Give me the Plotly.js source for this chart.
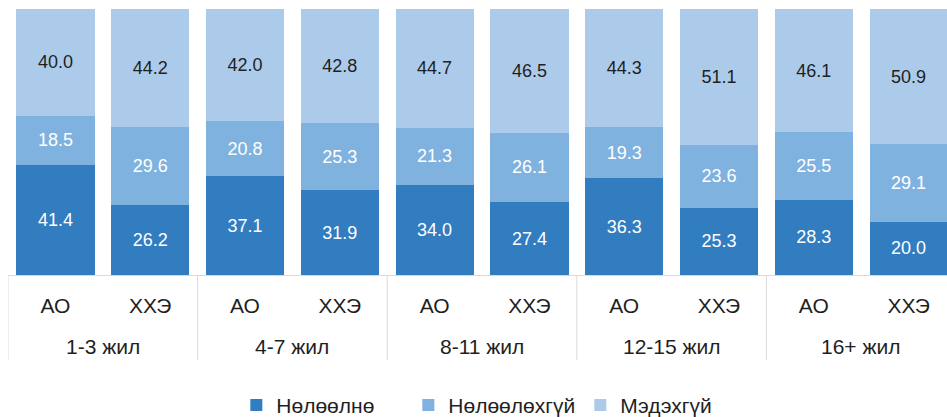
<!DOCTYPE html>
<html>
<head>
<meta charset="utf-8">
<script src="https://cdn.plot.ly/plotly-3.0.1.min.js"></script>
<style>html,body{margin:0;padding:0;background:#fff;}#chart{width:947px;height:417px;}</style>
</head>
<body>
<div id="chart"></div>
<script>
const groups = ['1-3 жил', '4-7 жил', '8-11 жил', '12-15 жил', '16+ жил'];
const subs = ['АО', 'ХХЭ'];
const seriesNames = ['Нөлөөлнө', 'Нөлөөлөхгүй', 'Мэдэхгүй'];
const influences = [41.4, 26.2, 37.1, 31.9, 34.0, 27.4, 36.3, 25.3, 28.3, 20.0];
const noInfluence = [18.5, 29.6, 20.8, 25.3, 21.3, 26.1, 19.3, 23.6, 25.5, 29.1];
const dontKnow = [40.0, 44.2, 42.0, 42.8, 44.7, 46.5, 44.3, 51.1, 46.1, 50.9];

const xSub = [], xIdx = [];
groups.forEach(g => subs.forEach(s => { xIdx.push(xSub.length); xSub.push(s); }));

const colors = ['#327cc0', '#7fb2df', '#accbea'];
const textColors = ['#ffffff', '#ffffff', '#1f1f1f'];
const values = [influences, noInfluence, dontKnow];
const FONT = 'Liberation Sans, Arial, sans-serif';

const traces = values.map((v, i) => ({
  type: 'bar',
  name: seriesNames[i],
  x: xIdx,
  y: v,
  marker: {color: colors[i], line: {width: 0}},
  text: v.map(d => d.toFixed(1)),
  textposition: 'inside',
  insidetextanchor: 'middle',
  textangle: 0,
  textfont: {family: FONT, size: 18, color: textColors[i]},
  hoverinfo: 'skip'
}));

// group labels and dividers placed on the x axis scale
const annotations = groups.map((g, gi) => ({
  xref: 'x', yref: 'paper',
  x: gi * subs.length + (subs.length - 1) / 2,
  y: -0.267, yanchor: 'middle', xanchor: 'center',
  text: g, showarrow: false,
  font: {family: FONT, size: 21, color: '#1f1f1f'}
}));
const shapes = groups.map((g, gi) => ({
  type: 'line', xref: 'x', yref: 'paper',
  x0: gi * subs.length - 0.5, x1: gi * subs.length - 0.5,
  y0: 0, y1: -0.32,
  line: {color: '#d9d9d9', width: 1}
}));

const layout = {
  width: 947, height: 417,
  barmode: 'stack',
  bargap: 0.175,
  margin: {l: 8, r: 0, t: 9, b: 142, pad: 0, autoexpand: false},
  paper_bgcolor: '#ffffff',
  plot_bgcolor: '#ffffff',
  font: {family: FONT, color: '#1f1f1f', size: 20},
  xaxis: {
    type: 'linear',
    range: [-0.5, 9.405],
    tickmode: 'array', tickvals: xIdx, ticktext: xSub,
    showline: true, linecolor: '#d9d9d9', linewidth: 1,
    ticks: '', ticklabelstandoff: 12,
    tickfont: {family: FONT, size: 21, color: '#1f1f1f'},
    showgrid: false, zeroline: false, fixedrange: true
  },
  yaxis: {range: [0, 100], visible: false, showgrid: false, zeroline: false, fixedrange: true},
  annotations: annotations,
  shapes: shapes,
  showlegend: true,
  legend: {
    orientation: 'h', xref: 'container', yref: 'container',
    xanchor: 'center', x: 0.522, yanchor: 'middle', y: 0.028,
    font: {family: FONT, size: 21, color: '#1f1f1f'}, itemwidth: 30, traceorder: 'normal',
    entrywidth: 127
  }
};

Plotly.newPlot('chart', traces, layout, {displayModeBar: false, staticPlot: true});
</script>
</body>
</html>
